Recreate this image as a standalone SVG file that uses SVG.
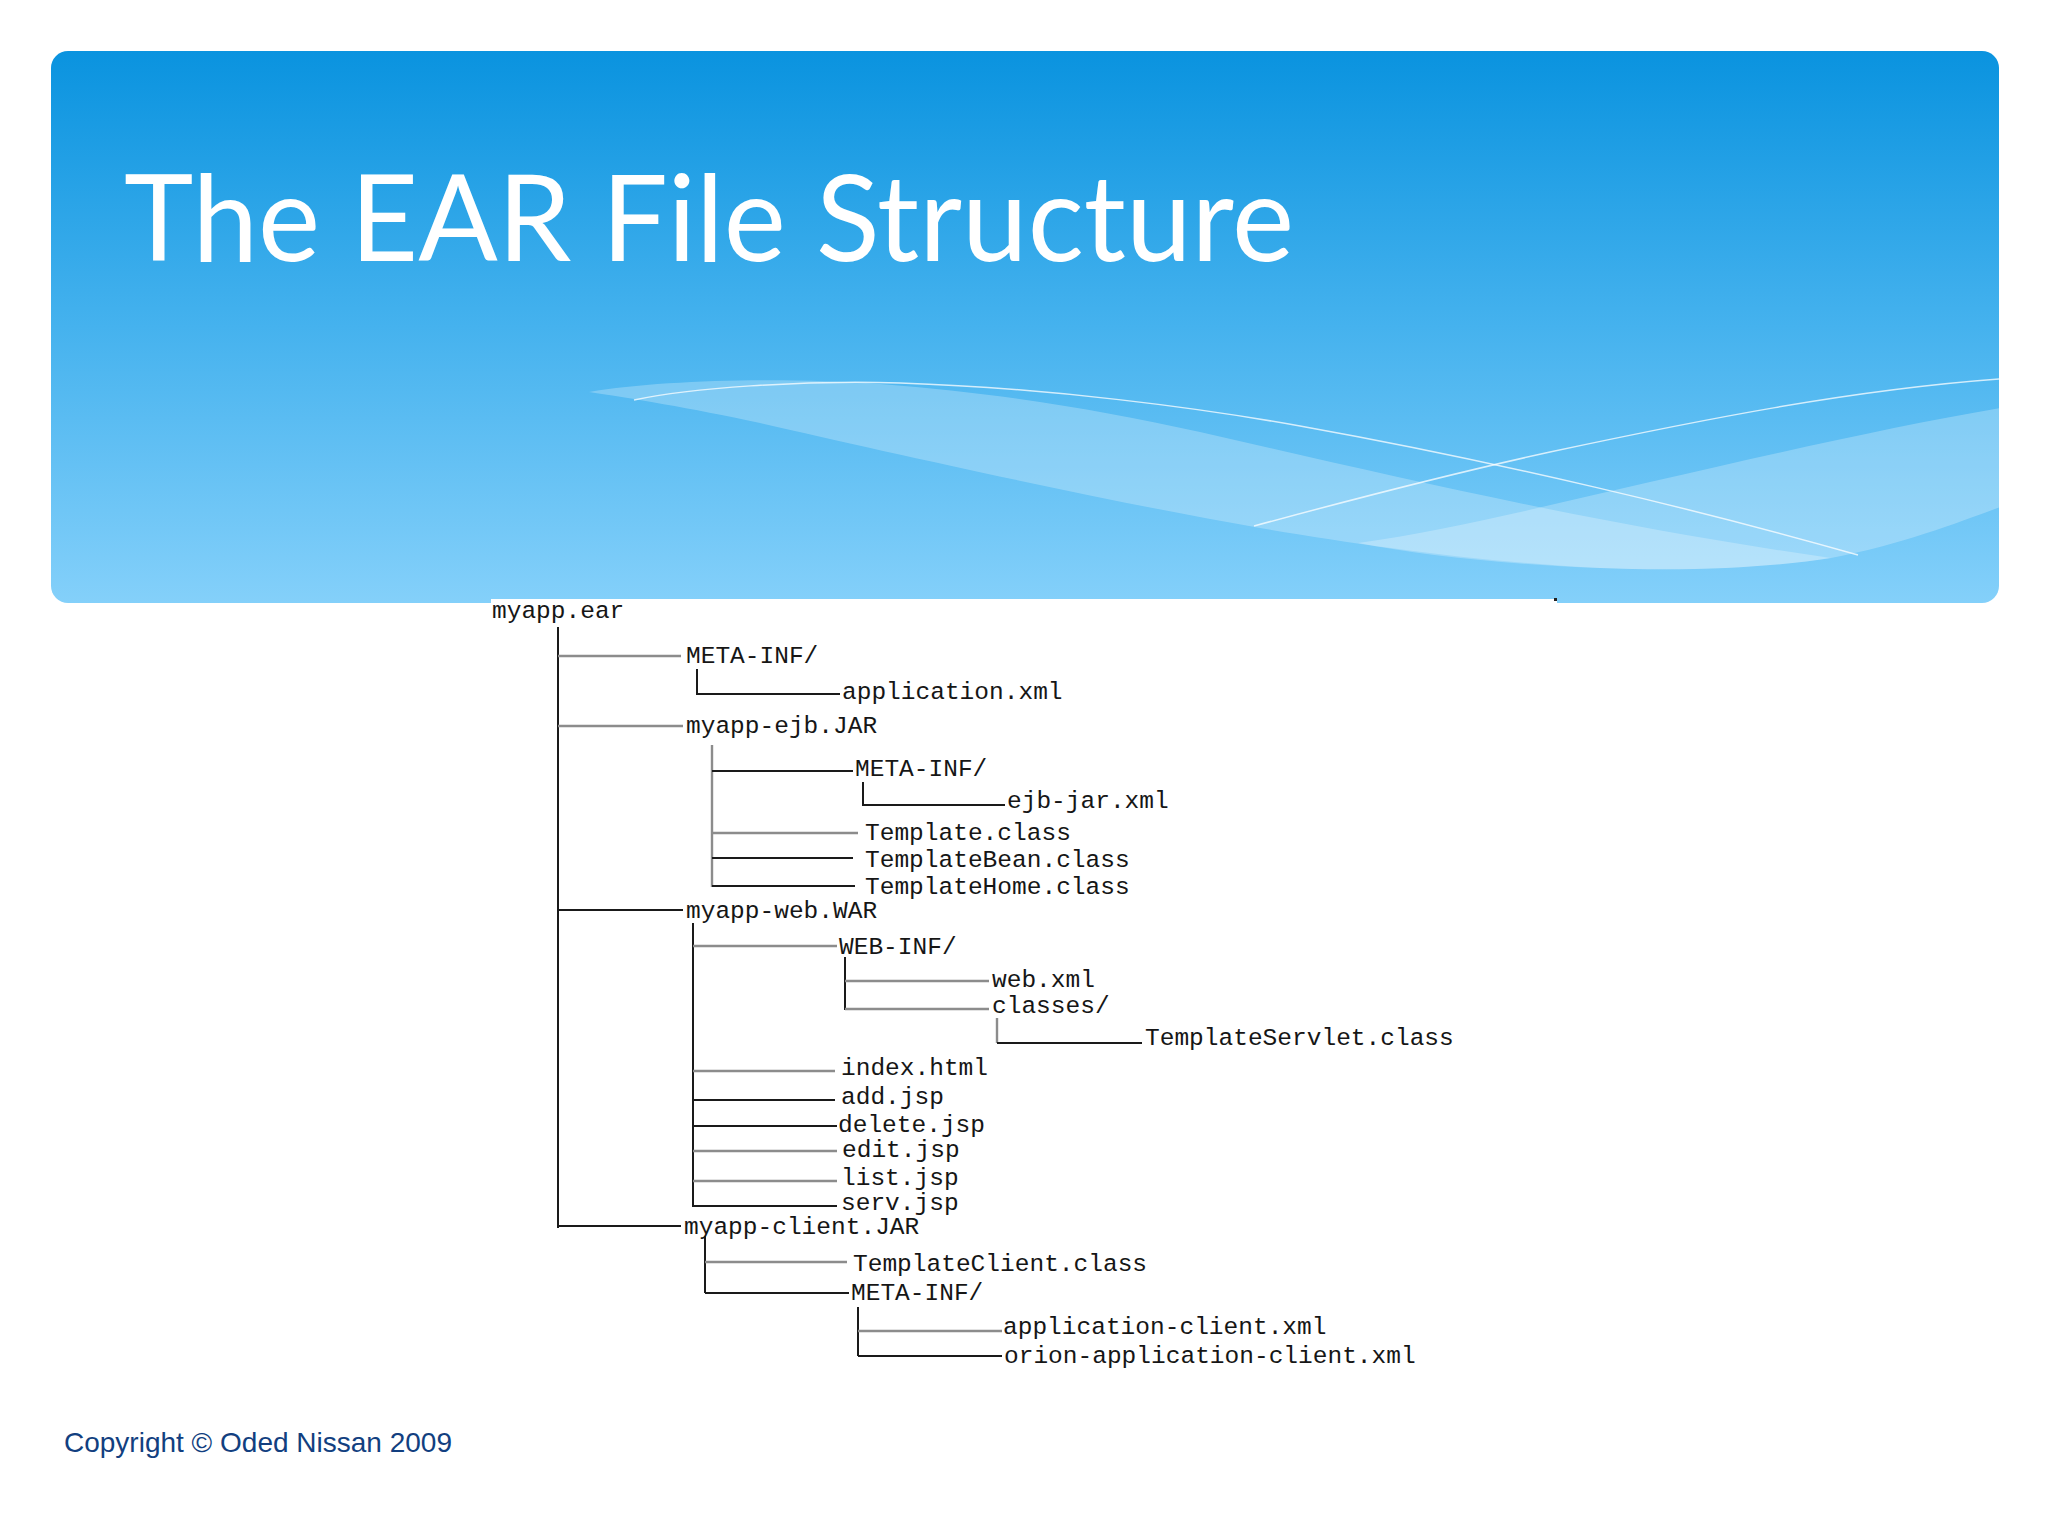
<svg xmlns="http://www.w3.org/2000/svg" width="2048" height="1536" viewBox="0 0 2048 1536">
<defs>
<linearGradient id="bg" x1="0" y1="0" x2="0" y2="1">
<stop offset="0" stop-color="#0A93DF"/>
<stop offset="0.5" stop-color="#45B2EE"/>
<stop offset="1" stop-color="#84D0FA"/>
</linearGradient>
<clipPath id="bannerClip"><rect x="51" y="51" width="1948" height="552" rx="17" ry="17"/></clipPath>
<style>
.t{font-family:"Liberation Mono","DejaVu Sans Mono",monospace;font-size:24.5px;fill:#161616}
.k{fill:none;stroke:#1a1a1a;stroke-width:2}
.g{fill:none;stroke:#8c8c8c;stroke-width:2.4}
.band{fill:#ffffff;fill-opacity:0.25}
.thin{fill:none;stroke:#ffffff;stroke-opacity:0.75;stroke-width:1.5}
</style>
</defs>
<rect width="2048" height="1536" fill="#ffffff"/>
<g id="banner">
<rect x="51" y="51" width="1948" height="552" rx="17" ry="17" fill="url(#bg)"/>
<g clip-path="url(#bannerClip)">
<path class="band" d="M589 392 C660 380 780 377 880 384 C1000 393 1100 410 1200 432 C1400 478 1600 525 1831 558 C1780 566 1700 572 1600 568 C1480 562 1360 545 1260 528 C1100 500 900 455 760 423 C690 408 630 398 589 392 Z"/>
<path class="band" d="M1358 543 C1450 530 1550 505 1650 482 C1780 452 1900 425 2000 408 L2000 507 C1960 522 1900 545 1831 558 C1780 566 1700 572 1600 568 C1500 564 1420 555 1358 543 Z"/>
<path class="thin" d="M634 400 C690 388 800 380 900 383 C1050 388 1200 408 1300 426 C1500 462 1700 510 1858 555"/>
<path class="thin" d="M1254 526 C1350 500 1450 474 1550 452 C1700 420 1850 390 2000 379"/>
</g>
<text x="124" y="261" font-family="Lato,'Open Sans',sans-serif" font-size="120" fill="#ffffff" textLength="1170" lengthAdjust="spacingAndGlyphs">The EAR File Structure</text>
</g>
<rect x="491" y="599" width="1066" height="6" fill="#ffffff"/>
<rect x="1554" y="598" width="3" height="3" fill="#222222"/>
<g id="connectors">
<path class="k" d="M558 627 V1228"/>
<path class="g" d="M558 656 H681"/>
<path class="k" d="M697 669 V694 H840"/>
<path class="g" d="M558 726 H683"/>
<path class="g" d="M712 745 V887"/>
<path class="k" d="M712 771 H853"/>
<path class="k" d="M863 782 V805 H1005"/>
<path class="g" d="M712 833 H858"/>
<path class="k" d="M712 858 H853"/>
<path class="k" d="M712 886 H855"/>
<path class="k" d="M558 910 H683"/>
<path class="k" d="M693 923 V1207"/>
<path class="g" d="M693 946 H837"/>
<path class="k" d="M845 957 V1010"/>
<path class="g" d="M845 981 H989"/>
<path class="g" d="M845 1009 H989"/>
<path class="g" d="M997 1018 V1043"/>
<path class="k" d="M997 1043 H1142"/>
<path class="g" d="M693 1071 H835"/>
<path class="k" d="M693 1100 H835"/>
<path class="k" d="M693 1126 H837"/>
<path class="g" d="M693 1151 H837"/>
<path class="g" d="M693 1181 H837"/>
<path class="k" d="M693 1206 H837"/>
<path class="k" d="M558 1226 H681"/>
<path class="k" d="M705 1236 V1293"/>
<path class="g" d="M705 1262 H847"/>
<path class="k" d="M705 1293 H849"/>
<path class="k" d="M858 1307 V1356"/>
<path class="g" d="M858 1331 H1002"/>
<path class="k" d="M858 1356 H1002"/>
</g>
<g id="n-myapp-ear"><text class="t" x="492" y="618">myapp.ear</text></g>
<g id="n-meta-inf-1"><text class="t" x="686" y="663">META-INF/</text></g>
<g id="n-application-xml"><text class="t" x="842" y="699">application.xml</text></g>
<g id="n-myapp-ejb"><text class="t" x="686" y="733">myapp-ejb.JAR</text></g>
<g id="n-meta-inf-2"><text class="t" x="855" y="776">META-INF/</text></g>
<g id="n-ejb-jar"><text class="t" x="1007" y="808">ejb-jar.xml</text></g>
<g id="n-template"><text class="t" x="865" y="840">Template.class</text></g>
<g id="n-templatebean"><text class="t" x="865" y="867">TemplateBean.class</text></g>
<g id="n-templatehome"><text class="t" x="865" y="894">TemplateHome.class</text></g>
<g id="n-myapp-web"><text class="t" x="686" y="918">myapp-web.WAR</text></g>
<g id="n-web-inf"><text class="t" x="839" y="954">WEB-INF/</text></g>
<g id="n-web-xml"><text class="t" x="992" y="987">web.xml</text></g>
<g id="n-classes"><text class="t" x="992" y="1013">classes/</text></g>
<g id="n-templateservlet"><text class="t" x="1145" y="1045">TemplateServlet.class</text></g>
<g id="n-index"><text class="t" x="841" y="1075">index.html</text></g>
<g id="n-add"><text class="t" x="841" y="1104">add.jsp</text></g>
<g id="n-delete"><text class="t" x="838" y="1132">delete.jsp</text></g>
<g id="n-edit"><text class="t" x="842" y="1157">edit.jsp</text></g>
<g id="n-list"><text class="t" x="841" y="1185">list.jsp</text></g>
<g id="n-serv"><text class="t" x="841" y="1210">serv.jsp</text></g>
<g id="n-myapp-client"><text class="t" x="684" y="1234">myapp-client.JAR</text></g>
<g id="n-templateclient"><text class="t" x="853" y="1271">TemplateClient.class</text></g>
<g id="n-meta-inf-3"><text class="t" x="851" y="1300">META-INF/</text></g>
<g id="n-app-client"><text class="t" x="1003" y="1334">application-client.xml</text></g>
<g id="n-orion"><text class="t" x="1004" y="1363">orion-application-client.xml</text></g>
<g id="footer"><text x="64" y="1452" font-family="'Liberation Sans',Arial,sans-serif" font-size="28" fill="#123F80">Copyright © Oded Nissan 2009</text></g>
</svg>
